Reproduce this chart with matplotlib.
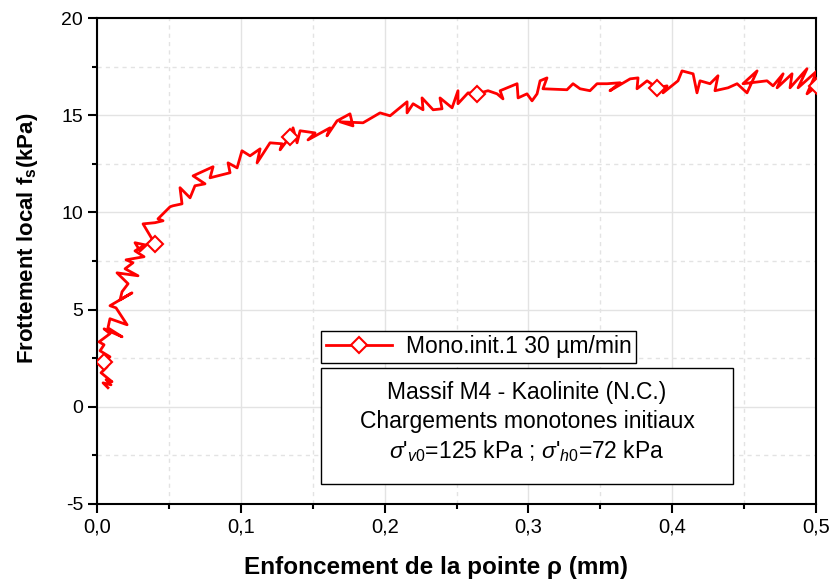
import matplotlib
matplotlib.use("Agg")
import matplotlib.pyplot as plt
from matplotlib.ticker import MultipleLocator, FuncFormatter
from matplotlib.patches import Rectangle

plt.rcParams['font.family'] = ['Liberation Sans', 'DejaVu Sans']
plt.rcParams['axes.unicode_minus'] = False
plt.rcParams['mathtext.fontset'] = 'custom'
plt.rcParams['mathtext.rm'] = 'Liberation Sans'
plt.rcParams['mathtext.it'] = 'Liberation Sans:italic'
plt.rcParams['mathtext.bf'] = 'Liberation Sans:bold'

# enfoncement (mm) / frottement local (kPa)
rho = [0.0076, 0.0042, 0.0097, 0.0063, 0.0104, 0.0028, 0.0070, 0.0049, 0.0090, 0.0021,
       0.0049, 0.0014, 0.0090, 0.0049, 0.0174, 0.0076, 0.0090, 0.0209, 0.0132, 0.0090,
       0.0243, 0.0160, 0.0174, 0.0216, 0.0139, 0.0285, 0.0195, 0.0250, 0.0202, 0.0327,
       0.0264, 0.0334, 0.0264, 0.0299, 0.0389, 0.0403, 0.0320, 0.0403, 0.0459, 0.0424,
       0.0508, 0.0528, 0.0591, 0.0577, 0.0647, 0.0681, 0.0751, 0.0668, 0.0807, 0.0786,
       0.0925, 0.0911, 0.0974, 0.1008, 0.1064, 0.1134, 0.1113, 0.1203, 0.1287, 0.1273,
       0.1342, 0.1363, 0.1391, 0.1412, 0.1516, 0.1467, 0.1620, 0.1599, 0.1669, 0.1759,
       0.1780, 0.1690, 0.1850, 0.1968, 0.2038, 0.2156, 0.2156, 0.2198, 0.2267, 0.2260,
       0.2337, 0.2399, 0.2385, 0.2469, 0.2510, 0.2510, 0.2580, 0.2643, 0.2719, 0.2782,
       0.2823, 0.2803, 0.2921, 0.2928, 0.2990, 0.3025, 0.3060, 0.3081, 0.3129, 0.3101,
       0.3268, 0.3310, 0.3359, 0.3428, 0.3477, 0.3547, 0.3637, 0.3567, 0.3707, 0.3762,
       0.3755, 0.3825, 0.3894, 0.3964, 0.3936, 0.4040, 0.4068, 0.4145, 0.4172, 0.4193,
       0.4263, 0.4318, 0.4297, 0.4388, 0.4451, 0.4520, 0.4590, 0.4492, 0.4659, 0.4701,
       0.4771, 0.4729, 0.4833, 0.4819, 0.4937, 0.4875, 0.5007, 0.4937, 0.5007]
fs = [0.98, 1.23, 1.13, 1.39, 1.29, 1.75, 2.06, 2.31, 2.57, 2.88,
      3.19, 3.34, 3.76, 4.01, 3.60, 4.06, 4.53, 4.22, 5.09, 5.20,
      5.86, 5.50, 5.92, 6.33, 6.89, 6.74, 7.10, 7.41, 7.56, 7.72,
      8.02, 8.33, 8.44, 8.02, 8.64, 8.38, 9.41, 9.47, 9.57, 9.67,
      10.29, 10.34, 10.44, 11.27, 10.75, 11.37, 11.47, 11.88, 12.35, 11.78,
      12.04, 12.55, 12.29, 13.17, 12.91, 13.27, 12.55, 13.58, 13.53, 13.22,
      13.89, 14.35, 13.58, 14.20, 14.09, 13.73, 14.35, 13.94, 14.71, 15.07,
      14.45, 14.66, 14.61, 15.12, 14.97, 15.69, 15.12, 15.59, 15.28, 15.89,
      15.28, 15.33, 15.89, 15.38, 16.26, 15.59, 16.15, 16.10, 16.26, 16.10,
      15.84, 16.26, 16.62, 15.89, 16.10, 15.74, 16.10, 16.77, 16.92, 16.36,
      16.31, 16.62, 16.36, 16.26, 16.62, 16.62, 16.67, 16.26, 16.87, 16.92,
      16.36, 16.77, 16.41, 16.51, 16.15, 16.77, 17.28, 17.13, 16.15, 16.77,
      16.62, 17.03, 16.26, 16.41, 16.62, 16.15, 17.28, 16.62, 16.77, 16.51,
      17.13, 16.41, 17.13, 16.41, 17.39, 16.41, 17.28, 16.10, 16.51]
marks = [7, 35, 60, 87, 112, 138]

fig = plt.figure(figsize=(8.3, 5.85), dpi=100)
ax = fig.add_axes([0.1169, 0.1385, 0.8663, 0.8307])

ax.plot(rho, fs, color='red', lw=2.0, marker='D', ms=8, mfc='white', mec='red',
        mew=1.5, markevery=marks, label='Mono.init.1 30 µm/min', zorder=3)

ax.set_xlim(0, 0.5)
ax.set_ylim(-5, 20)
ax.xaxis.set_major_locator(MultipleLocator(0.1))
ax.xaxis.set_minor_locator(MultipleLocator(0.05))
ax.yaxis.set_major_locator(MultipleLocator(5))
ax.yaxis.set_minor_locator(MultipleLocator(2.5))
ax.xaxis.set_major_formatter(FuncFormatter(lambda v, p: f"{v:.1f}".replace('.', ',')))

ax.grid(which='major', color='#e3e3e3', lw=1.0, ls='-')
ax.grid(which='minor', color='#e3e3e3', lw=1.0, ls=(0, (3, 3)))
ax.set_axisbelow(True)

for s in ax.spines.values():
    s.set_linewidth(1.5)
ax.tick_params(which='major', direction='out', length=6.5, width=1.5, labelsize=14)
ax.tick_params(which='minor', direction='out', length=3.5, width=1.5)
for lab in ax.get_xticklabels():
    lab.set_fontsize(14.5)

ax.set_xlabel('Enfoncement de la pointe ρ (mm)', fontsize=17.5, fontweight='bold')
ax.xaxis.set_label_coords(0.4715, -0.108)
ax.set_ylabel(r'Frottement local f$_\mathbf{s}$(kPa)', fontsize=16, fontweight='bold')
ax.yaxis.set_label_coords(-0.08, 0.547)

leg = ax.legend(loc='lower left', bbox_to_anchor=(0.3115, 0.290), borderaxespad=0,
                fontsize=16.5, handlelength=2.9, handletextpad=0.6, borderpad=0.2,
                fancybox=False, framealpha=1, edgecolor='black')
leg.get_frame().set_linewidth(1.0)

ax.add_patch(Rectangle((0.3115, 0.0412), 0.8846 - 0.3115, 0.2798 - 0.0412,
                       transform=ax.transAxes, fill=True, facecolor='white',
                       edgecolor='black', lw=1.0, zorder=4))
ax.text(0.598, 0.2285, 'Massif M4 - Kaolinite (N.C.)', transform=ax.transAxes,
        ha='center', va='center', fontsize=16.5, zorder=5)
ax.text(0.598, 0.1688, 'Chargements monotones initiaux', transform=ax.transAxes,
        ha='center', va='center', fontsize=16.5, zorder=5)
ax.text(0.598, 0.108, r"$\mathit{\sigma}$'$_{\mathit{v0}}$=125 kPa ; $\mathit{\sigma}$'$_{\mathit{h0}}$=72 kPa",
        transform=ax.transAxes, ha='center', va='center', fontsize=16.5, zorder=5)

fig.savefig('out.png', dpi=100)
